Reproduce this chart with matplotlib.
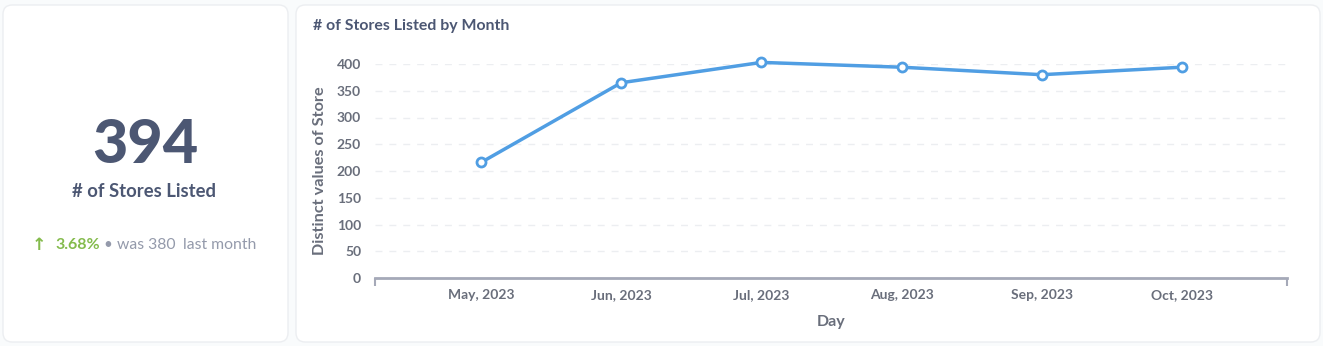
import matplotlib.pyplot as plt
from matplotlib.patches import FancyBboxPatch

# data
months = ['May, 2023', 'Jun, 2023', 'Jul, 2023', 'Aug, 2023', 'Sep, 2023', 'Oct, 2023']
stores = [216, 365, 403, 394, 380, 394]
y_ticks = [0, 50, 100, 150, 200, 250, 300, 350, 400]
current_value = '394'
change_pct = '3.68%'
previous_value = '380'

W, H = 1323, 346
DARK = '#4c5773'
TICK = '#696e7b'
GRAY = '#949aab'
BLUE = '#509ee3'
GREEN = '#84bb4c'

plt.rcParams['font.family'] = ['Lato', 'DejaVu Sans']

fig = plt.figure(figsize=(W / 100, H / 100), dpi=100)
fig.patch.set_facecolor('#f9fbfc')


def card(x0, y0, x1, y1):
    # card in pixel coords (y from top)
    p = FancyBboxPatch((x0 / W, 1 - y1 / H), (x1 - x0) / W, (y1 - y0) / H,
                       boxstyle='round,pad=0,rounding_size=0.007',
                       transform=fig.transFigure, facecolor='white',
                       edgecolor='#eceef1', linewidth=1, mutation_aspect=W / H,
                       zorder=-10)
    fig.patches.append(p)


card(3, 5, 288, 342)
card(296, 5, 1320, 342)


def ftext(x, y, s, **kw):
    fig.text(x / W, 1 - y / H, s, **kw)


# scalar card
ftext(145, 145, current_value, fontsize=44, fontweight='black', color=DARK,
      ha='center', va='center')
ftext(144, 192, '# of Stores Listed', fontsize=13.3, fontweight='bold', color=DARK,
      ha='center', va='center')
ftext(39, 245, '↑', fontsize=12.5, color=GREEN, ha='center', va='center',
      family=['DejaVu Sans'], fontweight='bold')
ftext(55, 245, change_pct, fontsize=11.5, fontweight='bold', color=GREEN,
      ha='left', va='center')
ftext(108, 245, '•', fontsize=11, color=GRAY, ha='center', va='center')
ftext(117, 245, f'was {previous_value}', fontsize=11.3, color=GRAY,
      ha='left', va='center')
ftext(183, 245, 'last month', fontsize=11.3, color=GRAY, ha='left', va='center')

# line chart card
ftext(313, 26, '# of Stores Listed by Month', fontsize=11.4, fontweight='bold',
      color=DARK, ha='left', va='center')

ax = fig.add_axes([375 / W, 1 - 278 / H, (1287 - 375) / W, (278 - 64) / H])
ax.set_facecolor('none')
x = list(range(len(months)))
ax.plot(x, stores, color=BLUE, linewidth=2.5, marker='o', markersize=6.5,
        markerfacecolor='white', markeredgecolor=BLUE, markeredgewidth=2,
        clip_on=False, zorder=5)

ax.set_xlim(-0.757, 5.75)
ax.set_ylim(0, 400)
ax.set_yticks(y_ticks)
ax.set_yticklabels([str(v) for v in y_ticks], fontweight='bold', fontsize=10,
                   color=TICK)
ax.set_xticks(x)
ax.set_xticklabels(months, fontweight='bold', fontsize=10, color=TICK)
ax.set_xticks([-0.757, 5.75], minor=True)
ax.tick_params(axis='x', which='major', length=0, pad=8)
ax.tick_params(axis='x', which='minor', length=6, width=1.5, color='#a5a9b8',
               direction='out')
ax.tick_params(axis='y', length=0, pad=10)

for s in ['top', 'right', 'left']:
    ax.spines[s].set_visible(False)
ax.spines['bottom'].set_color('#a5a9b8')
ax.spines['bottom'].set_linewidth(2)

ax.yaxis.grid(True, color='#eceef1', linestyle=(0, (5, 5)), linewidth=1)
ax.set_axisbelow(True)

ax.set_xlabel('Day', fontsize=11.5, fontweight='bold', color=TICK, labelpad=10)
ax.set_ylabel('Distinct values of Store', fontsize=11.7, fontweight='bold',
              color=TICK, labelpad=7)

fig.savefig('out.png', dpi=100, facecolor=fig.get_facecolor())
